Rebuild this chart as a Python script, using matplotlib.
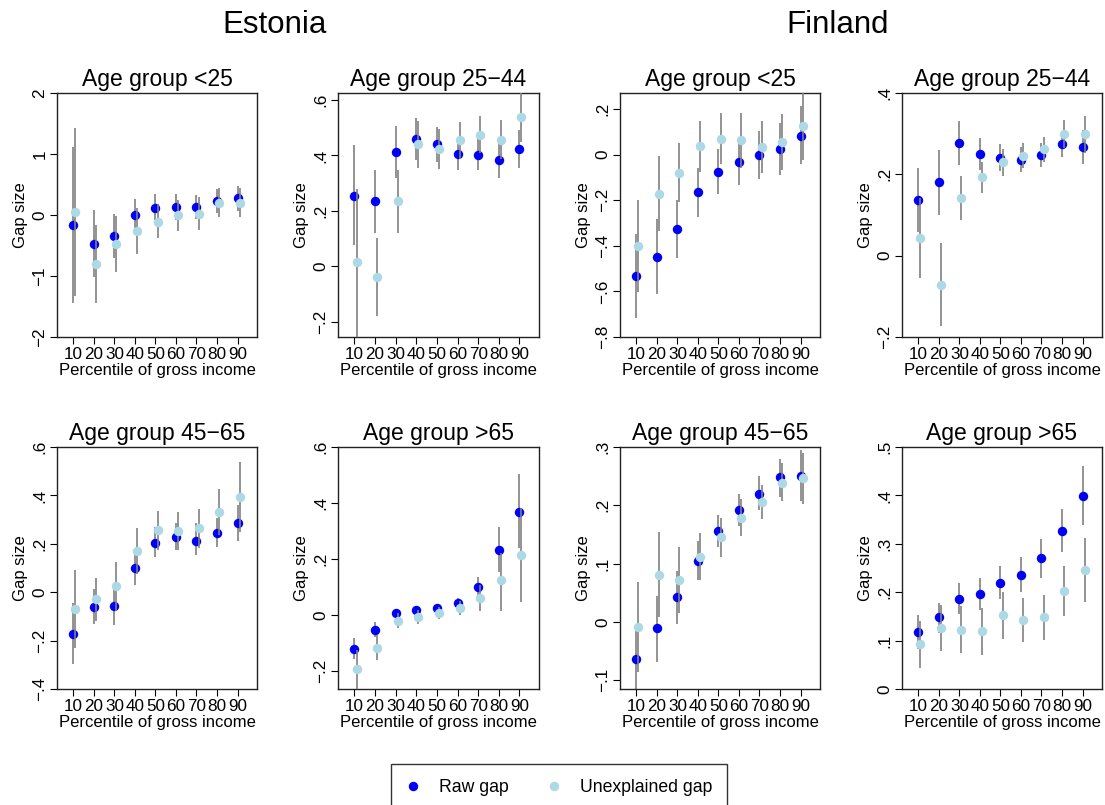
import matplotlib
matplotlib.use("Agg")
import matplotlib.pyplot as plt
from matplotlib.lines import Line2D
from matplotlib.ticker import FuncFormatter

plt.rcParams['font.family'] = ['Liberation Sans', 'DejaVu Sans']

pct = [10, 20, 30, 40, 50, 60, 70, 80, 90]

# Estonia, age < 25
ee1_raw = [-0.17, -0.47, -0.35, -0.005, 0.115, 0.13, 0.13, 0.23, 0.28]
ee1_raw_lo = [-1.45, -1.01, -0.71, -0.22, -0.08, -0.08, -0.07, 0.04, 0.07]
ee1_raw_hi = [1.11, 0.08, 0.02, 0.26, 0.35, 0.34, 0.33, 0.42, 0.48]
ee1_une = [0.05, -0.81, -0.47, -0.27, -0.11, 0.0, 0.02, 0.2, 0.2]
ee1_une_lo = [-1.33, -1.44, -0.93, -0.64, -0.38, -0.26, -0.24, -0.04, -0.03]
ee1_une_hi = [1.42, -0.16, -0.02, 0.12, 0.18, 0.25, 0.29, 0.44, 0.44]

# Estonia, age 25-44
ee2_raw = [0.255, 0.235, 0.412, 0.46, 0.44, 0.407, 0.40, 0.382, 0.423]
ee2_raw_lo = [0.076, 0.122, 0.32, 0.384, 0.375, 0.348, 0.346, 0.32, 0.354]
ee2_raw_hi = [0.436, 0.348, 0.505, 0.534, 0.504, 0.468, 0.462, 0.447, 0.492]
ee2_une = [0.016, -0.037, 0.235, 0.44, 0.423, 0.455, 0.475, 0.457, 0.537]
ee2_une_lo = [-0.30, -0.178, 0.122, 0.354, 0.35, 0.387, 0.408, 0.387, 0.449]
ee2_une_hi = [0.28, 0.104, 0.348, 0.525, 0.496, 0.522, 0.543, 0.528, 0.64]

# Finland, age < 25
fi1_raw = [-0.533, -0.448, -0.328, -0.165, -0.075, -0.031, -0.003, 0.025, 0.083]
fi1_raw_lo = [-0.717, -0.61, -0.454, -0.274, -0.173, -0.132, -0.107, -0.089, -0.04]
fi1_raw_hi = [-0.347, -0.284, -0.2, -0.057, 0.023, 0.063, 0.102, 0.139, 0.212]
fi1_une = [-0.40, -0.173, -0.08, 0.037, 0.07, 0.064, 0.034, 0.054, 0.124]
fi1_une_lo = [-0.603, -0.337, -0.208, -0.076, -0.042, -0.059, -0.08, -0.069, -0.022]
fi1_une_hi = [-0.198, -0.007, 0.051, 0.149, 0.184, 0.184, 0.148, 0.18, 0.28]

# Finland, age 25-44
fi2_raw = [0.137, 0.18, 0.277, 0.25, 0.241, 0.236, 0.247, 0.275, 0.267]
fi2_raw_lo = [0.058, 0.1, 0.223, 0.211, 0.208, 0.206, 0.217, 0.243, 0.226]
fi2_raw_hi = [0.215, 0.26, 0.332, 0.289, 0.274, 0.267, 0.278, 0.305, 0.309]
fi2_une = [0.044, -0.072, 0.142, 0.193, 0.23, 0.246, 0.262, 0.3, 0.299]
fi2_une_lo = [-0.054, -0.174, 0.087, 0.155, 0.197, 0.215, 0.23, 0.264, 0.252]
fi2_une_hi = [0.141, 0.03, 0.196, 0.231, 0.262, 0.278, 0.293, 0.333, 0.344]

# Estonia, age 45-65
ee3_raw = [-0.172, -0.06, -0.056, 0.1, 0.205, 0.228, 0.212, 0.246, 0.286]
ee3_raw_lo = [-0.298, -0.133, -0.137, 0.029, 0.144, 0.173, 0.155, 0.187, 0.213]
ee3_raw_hi = [-0.044, 0.014, 0.018, 0.169, 0.269, 0.286, 0.286, 0.306, 0.361]
ee3_une = [-0.069, -0.03, 0.026, 0.17, 0.255, 0.254, 0.264, 0.331, 0.393]
ee3_une_lo = [-0.231, -0.121, -0.076, 0.077, 0.173, 0.176, 0.183, 0.236, 0.247]
ee3_une_hi = [0.093, 0.059, 0.125, 0.265, 0.337, 0.331, 0.345, 0.427, 0.54]

# Estonia, age > 65
ee4_raw = [-0.12, -0.052, 0.008, 0.017, 0.025, 0.042, 0.101, 0.232, 0.367]
ee4_raw_lo = [-0.157, -0.079, -0.007, 0.004, 0.01, 0.025, 0.069, 0.153, 0.24]
ee4_raw_hi = [-0.082, -0.026, 0.023, 0.031, 0.04, 0.061, 0.136, 0.313, 0.502]
ee4_une = [-0.192, -0.117, -0.02, -0.007, 0.008, 0.025, 0.061, 0.124, 0.215]
ee4_une_lo = [-0.29, -0.162, -0.046, -0.031, -0.014, -0.001, 0.013, 0.015, 0.046]
ee4_une_hi = [-0.124, -0.07, 0.007, 0.019, 0.029, 0.049, 0.106, 0.222, 0.383]

# Finland, age 45-65
fi3_raw = [-0.063, -0.011, 0.042, 0.105, 0.156, 0.192, 0.22, 0.248, 0.251]
fi3_raw_lo = [-0.125, -0.068, -0.003, 0.072, 0.128, 0.164, 0.192, 0.215, 0.207]
fi3_raw_hi = [-0.008, 0.045, 0.087, 0.139, 0.184, 0.219, 0.25, 0.28, 0.295]
fi3_une = [-0.008, 0.081, 0.072, 0.112, 0.145, 0.179, 0.205, 0.239, 0.247]
fi3_une_lo = [-0.085, 0.008, 0.016, 0.072, 0.112, 0.147, 0.176, 0.207, 0.203]
fi3_une_hi = [0.069, 0.155, 0.128, 0.152, 0.178, 0.21, 0.235, 0.272, 0.29]

# Finland, age > 65
fi4_raw = [0.118, 0.148, 0.186, 0.196, 0.22, 0.235, 0.27, 0.327, 0.399]
fi4_raw_lo = [0.083, 0.115, 0.155, 0.163, 0.186, 0.2, 0.23, 0.283, 0.338]
fi4_raw_hi = [0.153, 0.178, 0.218, 0.229, 0.255, 0.272, 0.31, 0.371, 0.461]
fi4_une = [0.092, 0.126, 0.122, 0.119, 0.152, 0.143, 0.148, 0.202, 0.246]
fi4_une_lo = [0.043, 0.079, 0.074, 0.071, 0.104, 0.098, 0.101, 0.151, 0.179]
fi4_une_hi = [0.141, 0.174, 0.172, 0.167, 0.2, 0.187, 0.194, 0.254, 0.312]

titles = ["Age group <25", "Age group 25\u221244", "Age group <25", "Age group 25\u221244",
          "Age group 45\u221265", "Age group >65", "Age group 45\u221265", "Age group >65"]

panels = [
    (ee1_raw, ee1_raw_lo, ee1_raw_hi, ee1_une, ee1_une_lo, ee1_une_hi),
    (ee2_raw, ee2_raw_lo, ee2_raw_hi, ee2_une, ee2_une_lo, ee2_une_hi),
    (fi1_raw, fi1_raw_lo, fi1_raw_hi, fi1_une, fi1_une_lo, fi1_une_hi),
    (fi2_raw, fi2_raw_lo, fi2_raw_hi, fi2_une, fi2_une_lo, fi2_une_hi),
    (ee3_raw, ee3_raw_lo, ee3_raw_hi, ee3_une, ee3_une_lo, ee3_une_hi),
    (ee4_raw, ee4_raw_lo, ee4_raw_hi, ee4_une, ee4_une_lo, ee4_une_hi),
    (fi3_raw, fi3_raw_lo, fi3_raw_hi, fi3_une, fi3_une_lo, fi3_une_hi),
    (fi4_raw, fi4_raw_lo, fi4_raw_hi, fi4_une, fi4_une_lo, fi4_une_hi),
]

yticks = [[-2, -1, 0, 1, 2], [-.2, 0, .2, .4, .6], [-.8, -.6, -.4, -.2, 0, .2], [-.2, 0, .2, .4],
          [-.4, -.2, 0, .2, .4, .6], [-.2, 0, .2, .4, .6], [-.1, 0, .1, .2, .3], [0, .1, .2, .3, .4, .5]]
ylims = [(-2, 2), (-0.254, 0.625), (-0.8, 0.27), (-0.2, 0.4),
         (-0.4, 0.6), (-0.264, 0.6), (-0.115, 0.3), (0, 0.5)]

W, H = 1105, 805
cols = [(57, 257), (338, 539), (620, 820), (902, 1102)]
rows = [(93, 337), (447, 689)]

raw_col = "#0000f5"
une_col = "#add8e6"
ci_col = "#808080"


def fmt(v, pos):
    if abs(v) < 1e-9:
        return "0"
    if abs(v - round(v)) < 1e-9:
        s = str(int(round(v)))
    else:
        s = ("%.1f" % v).replace("0.", ".")
    return s.replace("-", "\u2212")


fig = plt.figure(figsize=(W / 100, H / 100), dpi=100)

for i, (raw, rlo, rhi, une, ulo, uhi) in enumerate(panels):
    l, r = cols[i % 4]
    t, b = rows[i // 4]
    ax = fig.add_axes([l / W, 1 - b / H, (r - l) / W, (b - t) / H])
    x2 = [p + 1 for p in pct]
    ax.vlines(pct, rlo, rhi, color=ci_col, lw=1.2, zorder=2)
    ax.plot(pct, raw, 'o', color=raw_col, ms=6.8, mec='none', zorder=3)
    ax.vlines(x2, ulo, uhi, color=ci_col, lw=1.2, zorder=4)
    ax.plot(x2, une, 'o', color=une_col, ms=6.8, mec='none', zorder=5)
    ax.set_xlim(2, 99.5)
    ax.set_ylim(*ylims[i])
    ax.set_xticks(pct)
    ax.set_yticks(yticks[i])
    ax.yaxis.set_major_formatter(FuncFormatter(fmt))
    ax.tick_params(axis='x', labelsize=12.3, length=5, pad=2)
    ax.tick_params(axis='y', labelsize=12.3, length=5, pad=2, labelrotation=90)
    for lab in ax.get_yticklabels():
        lab.set_va('center')
    ax.set_xlabel("Percentile of gross income", fontsize=12, labelpad=1)
    ax.set_ylabel("Gap size", fontsize=12, labelpad=3)
    ax.set_title(titles[i], fontsize=16.5, pad=5)
    for s in ax.spines.values():
        s.set_color("#222222")
        s.set_linewidth(1.0)

fig.text(275 / W, 1 - 25 / H, "Estonia", ha='center', va='center', fontsize=22.5)
fig.text(838 / W, 1 - 25 / H, "Finland", ha='center', va='center', fontsize=22.5)

handles = [Line2D([], [], ls='none', marker='o', color=raw_col, ms=6.8, mec='none'),
           Line2D([], [], ls='none', marker='o', color=une_col, ms=6.8, mec='none')]
leg = fig.legend(handles, ["Raw gap", "Unexplained gap"], loc='upper left',
                 bbox_to_anchor=(391 / W, 1 - 764 / H), borderaxespad=0, ncol=2, fontsize=12.7,
                 frameon=True, fancybox=False, edgecolor='black', columnspacing=2.2,
                 handlelength=0.8, handletextpad=1.05, borderpad=0.85)
leg.get_frame().set_linewidth(1.0)

fig.savefig("out.png", dpi=100)
